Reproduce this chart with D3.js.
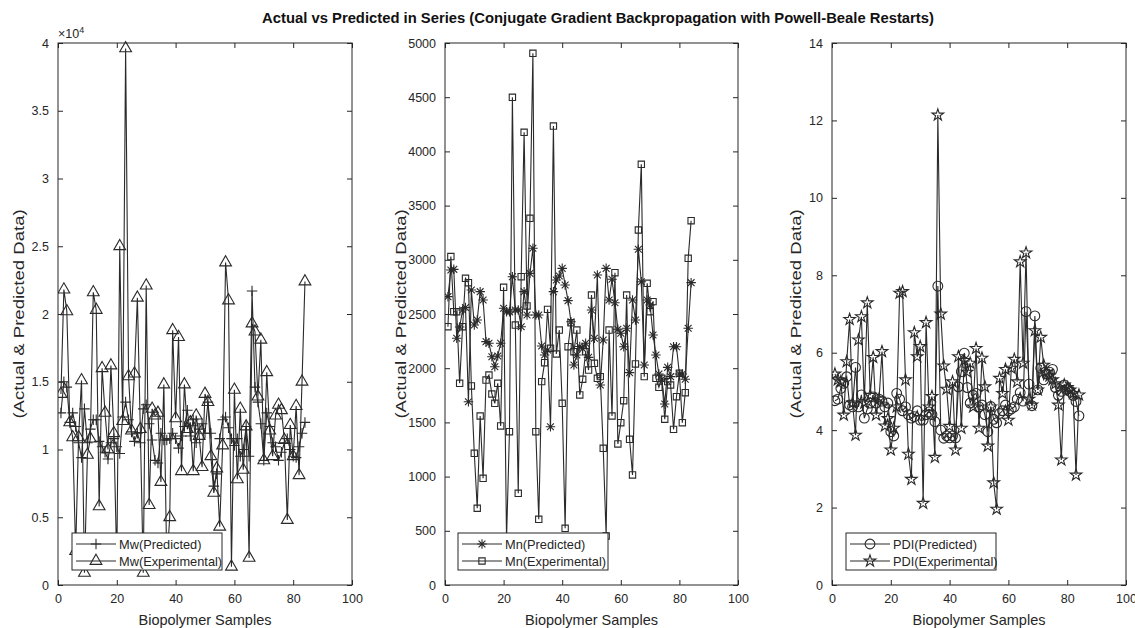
<!DOCTYPE html>
<html>
<head>
<meta charset="utf-8">
<script src="https://cdn.jsdelivr.net/npm/d3@7"></script>
<style>
  html, body { margin: 0; padding: 0; background: #fff; }
  svg { display: block; font-family: "Liberation Sans", Arial, sans-serif; }
</style>
</head>
<body>
<svg id="chart" width="1135" height="628"></svg>
<script>
// Sample index 1..84
const samples = d3.range(1, 85);

// Mw (weight-average molecular weight)
const mwPredicted = [12700, 15000, 14600, 12000, 12700, 11700, 10500, 9400, 13000, 10500,
  11500, 12200, 12200, 10600, 10200, 9800, 9300, 10500, 10800, 10200,
  9700, 12400, 13500, 12200, 11300, 10600, 11200, 10500, 13000, 13300,
  11900, 10700, 9200, 9000, 11200, 10700, 10700, 10800, 11200, 10800,
  10100, 11000, 11700, 12900, 11000, 12200, 10500, 11500, 11900, 11200,
  13500, 11200, 7300, 8200, 10800, 12200, 12400, 11600, 10800, 10300,
  10800, 9500, 10000, 11700, 9500, 21700, 14600, 13500, 11900, 9200,
  12700, 11700, 10500, 10200, 9200, 9800, 10500, 10800, 10000, 9500,
  9400, 10200, 11200, 12000];
const mwExperimental = [14100, 21800, 20200, 12000, 10900, 2500, 10900, 15100, 900, 9600,
  10800, 21600, 20300, 5800, 16000, 12700, 10000, 16200, 11200, 1500,
  25000, 12100, 39600, 15400, 11400, 15600, 21200, 11500, 900, 22100,
  5900, 13000, 12500, 12700, 7600, 14800, 1500, 5000, 18800, 12300,
  18300, 8400, 14800, 11500, 12000, 8400, 12500, 11000, 8700, 14100,
  13500, 9500, 6800, 8600, 4300, 10300, 23800, 21000, 1350, 14400,
  7800, 13000, 8500, 11700, 2000, 19300, 18700, 13900, 18100, 9200,
  15700, 11400, 9500, 12500, 13300, 12900, 10700, 4800, 11800, 9500,
  13200, 8100, 15000, 22400];

// Mn (number-average molecular weight)
const mnPredicted = [2660, 2906, 2912, 2276, 2380, 2537, 2560, 1691, 2721, 2398,
  2445, 2706, 2629, 2245, 2230, 2106, 2014, 2113, 2230, 2553,
  2521, 2520, 2844, 2537, 2537, 2383, 2706, 2491, 2875, 3106,
  2491, 2491, 2205, 2122, 2168, 1460, 2706, 2814, 2850, 2921,
  2768, 2623, 2429, 2030, 2122, 2200, 2180, 2230, 2100, 2537,
  2276, 2860, 1845, 2260, 2921, 2629, 2820, 2604, 2359, 2322,
  2198, 2368, 1959, 2629, 2445, 3097, 2798, 2030, 2629, 2583,
  2306, 2122, 1947, 1898, 1670, 2008, 1922, 2198, 2198, 1947,
  1947, 1898, 2368, 2789];
const mnExperimental = [2383, 3030, 2521, 2521, 1861, 2383, 2829, 2789, 1836, 1215,
  708, 1559, 984, 1891, 1937, 1762, 1676, 1861, 1467, 2746,
  420, 1414, 4499, 2398, 846, 2844, 4176, 2574, 3383, 4905,
  1414, 606, 1876, 2051, 2543, 2184, 4234, 2131, 2352, 1676,
  523, 2198, 2420, 2152, 2352, 1753, 1898, 2152, 1983, 2675,
  2045, 1907, 1922, 1261, 452, 2352, 1559, 2881, 1301, 1497,
  1700, 2675, 1344, 1015, 2039, 3275, 3881, 1922, 2783, 2521,
  2614, 1907, 1824, 1907, 1529, 1876, 1845, 1436, 1737, 1953,
  1497, 1774, 3014, 3361];

// PDI (polydispersity index)
const pdiPredicted = [4.76, 4.8, 5.08, 5.21, 5.38, 4.65, 4.6, 5.62, 4.6, 4.91,
  4.31, 4.55, 4.7, 4.86, 4.7, 4.8, 4.75, 4.6, 4.7, 3.96,
  3.85, 4.95, 4.8, 4.5, 4.6, 4.4, 4.31, 4.35, 4.5, 4.26,
  4.26, 4.4, 4.47, 4.4, 4.22, 7.72, 4.0, 3.79, 3.85, 3.8,
  3.85, 3.8, 5.12, 5.51, 5.99, 5.1, 4.7, 4.9, 4.95, 4.6,
  4.65, 4.4, 3.96, 4.61, 4.28, 4.19, 4.43, 4.5, 4.65, 4.5,
  4.55, 4.6, 4.8, 4.97, 4.75, 7.06, 5.19, 4.63, 6.95, 5.04,
  5.6, 5.3, 5.45, 5.5, 5.57, 5.1, 4.9, 5.0, 5.17, 5.05,
  5.0, 4.9, 4.74, 4.37];
const pdiExperimental = [5.45, 5.3, 5.25, 4.39, 5.77, 6.86, 4.7, 3.87, 6.33, 6.93,
  4.7, 7.29, 4.9, 5.88, 4.39, 4.8, 6.03, 4.11, 4.3, 3.49,
  4.05, 4.6, 7.54, 7.58, 5.3, 3.38, 2.73, 6.52, 5.9, 6.16,
  2.11, 6.78, 4.6, 4.87, 3.3, 12.14, 7.0, 5.66, 5.06, 4.1,
  5.25, 3.49, 5.9, 4.05, 5.8, 5.5, 5.73, 4.6, 6.11, 4.05,
  5.86, 5.12, 3.59, 4.6, 2.64, 1.96, 5.34, 4.95, 5.57, 4.26,
  5.6, 5.83, 5.25, 8.35, 5.73, 8.58, 4.8, 4.65, 6.57, 5.04,
  6.4, 5.68, 5.5, 5.4, 5.3, 5.2, 4.65, 3.23, 5.17, 5.1,
  5.04, 4.95, 2.84, 4.91];

const xTicks = [0, 20, 40, 60, 80, 100];
const mwTicks = [0, 5000, 10000, 15000, 20000, 25000, 30000, 35000, 40000];
const mnTicks = [0, 500, 1000, 1500, 2000, 2500, 3000, 3500, 4000, 4500, 5000];
const pdiTicks = [0, 2, 4, 6, 8, 10, 12, 14];

const titleText = "Actual vs Predicted in Series (Conjugate Gradient Backpropagation with Powell-Beale Restarts)";
const xLabel = "Biopolymer Samples";
const yLabel = "(Actual & Predicted Data)";

// ---- marker shapes drawn as stroked outlines ----
const symPlus = {
  draw(ctx, size) {
    const r = Math.sqrt(size) / 2;
    ctx.moveTo(-r, 0); ctx.lineTo(r, 0);
    ctx.moveTo(0, -r); ctx.lineTo(0, r);
  }
};
const symAsterisk = {
  draw(ctx, size) {
    const r = Math.sqrt(size) / 2;
    const d = r * 0.72;
    ctx.moveTo(-r, 0); ctx.lineTo(r, 0);
    ctx.moveTo(0, -r); ctx.lineTo(0, r);
    ctx.moveTo(-d, -d); ctx.lineTo(d, d);
    ctx.moveTo(-d, d); ctx.lineTo(d, -d);
  }
};

const panels = [
  {
    left: 58, right: 352, domain: [0, 40000], ticks: mwTicks,
    fmt: v => d3.format("~g")(v / 10000), exponent: true,
    series: [
      { name: "Mw(Predicted)", values: mwPredicted, symbol: symPlus, size: 110 },
      { name: "Mw(Experimental)", values: mwExperimental, symbol: d3.symbolTriangle, size: 60 }
    ],
    legendX: 72, yLabelX: 19
  },
  {
    left: 445, right: 738, domain: [0, 5000], ticks: mnTicks,
    fmt: v => String(v), exponent: false,
    series: [
      { name: "Mn(Predicted)", values: mnPredicted, symbol: symAsterisk, size: 90 },
      { name: "Mn(Experimental)", values: mnExperimental, symbol: d3.symbolSquare, size: 40 }
    ],
    legendX: 458, yLabelX: 401
  },
  {
    left: 832, right: 1126, domain: [0, 14], ticks: pdiTicks,
    fmt: v => String(v), exponent: false,
    series: [
      { name: "PDI(Predicted)", values: pdiPredicted, symbol: d3.symbolCircle, size: 75 },
      { name: "PDI(Experimental)", values: pdiExperimental, symbol: d3.symbolStar, size: 42 }
    ],
    legendX: 846, yLabelX: 796
  }
];

const plotTop = 43, plotBottom = 585;
const ink = "#262626";
const lineInk = "#2a2a2a";
const svg = d3.select("#chart");

svg.append("text")
  .attr("x", 598).attr("y", 23)
  .attr("text-anchor", "middle")
  .attr("font-weight", "bold")
  .attr("font-size", 14.8)
  .attr("fill", "#111")
  .text(titleText);

panels.forEach(p => {
  const x = d3.scaleLinear().domain([0, 100]).range([p.left, p.right]);
  const y = d3.scaleLinear().domain(p.domain).range([plotBottom, plotTop]);
  const g = svg.append("g");

  // data lines and markers
  const clipId = "clip" + p.left;
  g.append("clipPath").attr("id", clipId)
    .append("rect").attr("x", p.left).attr("y", plotTop - 6)
    .attr("width", p.right - p.left).attr("height", plotBottom - plotTop + 6);

  const plot = g.append("g").attr("clip-path", `url(#${clipId})`);
  const line = d3.line().x((d, i) => x(samples[i])).y(d => y(d));

  p.series.forEach(s => {
    plot.append("path")
      .attr("d", line(s.values))
      .attr("fill", "none")
      .attr("stroke", lineInk)
      .attr("stroke-width", 1.1);
    const sym = d3.symbol().type(s.symbol).size(s.size);
    plot.append("g").selectAll("path")
      .data(s.values)
      .join("path")
      .attr("transform", (d, i) => `translate(${x(samples[i])},${y(d)})`)
      .attr("d", sym())
      .attr("fill", "none")
      .attr("stroke", lineInk)
      .attr("stroke-width", 1.1);
  });

  // axes: ticks inward on all four sides, box frame
  const axB = d3.axisBottom(x).tickValues(xTicks).tickSizeInner(-5).tickSizeOuter(0).tickPadding(9);
  const axT = d3.axisTop(x).tickValues(xTicks).tickSizeInner(-5).tickSizeOuter(0).tickFormat("");
  const axL = d3.axisLeft(y).tickValues(p.ticks).tickSizeInner(-5).tickSizeOuter(0).tickPadding(9).tickFormat(p.fmt);
  const axR = d3.axisRight(y).tickValues(p.ticks).tickSizeInner(-5).tickSizeOuter(0).tickFormat("");

  const styleAxis = sel => {
    sel.select(".domain").remove();
    sel.selectAll("line").attr("stroke", ink);
    sel.selectAll("text").attr("fill", ink).attr("font-size", 12.5)
      .attr("font-family", '"Liberation Sans", Arial, sans-serif');
  };
  g.append("g").attr("transform", `translate(0,${plotBottom})`).call(axB).call(styleAxis);
  g.append("g").attr("transform", `translate(0,${plotTop})`).call(axT).call(styleAxis);
  g.append("g").attr("transform", `translate(${p.left},0)`).call(axL).call(styleAxis);
  g.append("g").attr("transform", `translate(${p.right},0)`).call(axR).call(styleAxis);

  g.append("rect")
    .attr("x", p.left).attr("y", plotTop)
    .attr("width", p.right - p.left).attr("height", plotBottom - plotTop)
    .attr("fill", "none").attr("stroke", ink).attr("stroke-width", 1);

  if (p.exponent) {
    const t = g.append("text").attr("x", p.left).attr("y", plotTop - 5)
      .attr("font-size", 12.5).attr("fill", ink);
    t.append("tspan").text("\u00d710");
    t.append("tspan").attr("dy", -5).attr("font-size", 9).text("4");
  }

  // axis titles
  g.append("text")
    .attr("x", (p.left + p.right) / 2).attr("y", 625)
    .attr("text-anchor", "middle").attr("font-size", 14.5).attr("fill", ink)
    .text(xLabel);
  g.append("text")
    .attr("transform", `translate(${p.yLabelX},${(plotTop + plotBottom) / 2}) rotate(-90) scale(1.28,1)`)
    .attr("text-anchor", "middle").attr("dy", "0.35em").attr("font-size", 14.5).attr("fill", ink)
    .text(yLabel);

  // legend
  const lg = g.append("g");
  const lw = 150, lh = 37, ly = 533;
  lg.append("rect").attr("x", p.legendX).attr("y", ly).attr("width", lw).attr("height", lh)
    .attr("fill", "#fff").attr("stroke", ink).attr("stroke-width", 1);
  p.series.forEach((s, k) => {
    const cy = ly + 11 + k * 17;
    lg.append("line").attr("x1", p.legendX + 4).attr("x2", p.legendX + 44)
      .attr("y1", cy).attr("y2", cy).attr("stroke", lineInk).attr("stroke-width", 1.1);
    lg.append("path").attr("transform", `translate(${p.legendX + 24},${cy})`)
      .attr("d", d3.symbol().type(s.symbol).size(s.size)())
      .attr("fill", "none").attr("stroke", lineInk).attr("stroke-width", 1.1);
    lg.append("text").attr("x", p.legendX + 47).attr("y", cy + 4.5)
      .attr("font-size", 12.8).attr("fill", ink).text(s.name);
  });
});
</script>
</body>
</html>
